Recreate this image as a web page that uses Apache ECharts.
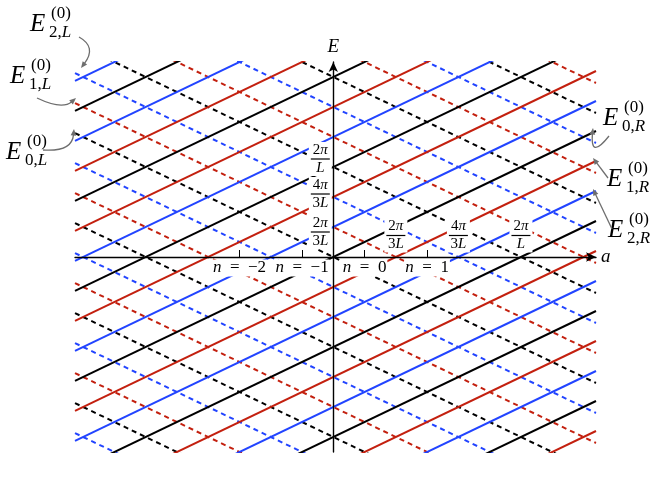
<!DOCTYPE html>
<html><head><meta charset="utf-8">
<script src="https://cdn.jsdelivr.net/npm/echarts@6/dist/echarts.min.js"></script>
<style>html,body{margin:0;padding:0;background:#fff}#c{width:654px;height:491px}</style>
</head><body><div id="c"></div>
<script>
// ---------- data ----------
const aRange = [-4.13, 4.2];          // a axis extent (units of 2π/3L)
const eRange = [-6.5, 6.5];           // E axis extent (units of 2π/3L)
// right movers: E = a + c (solid lines)
const rightOffsets = [-10,-9,-8,-7,-6,-5,-4,-3,-2,-1,0,1,2,3,4,5,6,7,8,9,10];
const rightColors  = ['r','k','b','r','k','b','r','k','b','r','k','b','r','k','b','r','k','r','b','k','b'];
// left movers: E = -a + d (dashed lines)
const leftOffsets = [-10,-9,-8,-7,-6,-5,-4,-3,-2,-1,0,1,2,3,4,5,6,7,8,9,10];
const leftColors  = ['b','k','r','b','k','r','b','k','r','b','k','r','b','k','r','b','k','r','b','k','r'];
// tick marks on the a axis and their n labels
const nTickValues = [-1.5,-0.5,0.5,1.5];
const nTickLabels = ['−2','−1','0','1'];
// fraction labels
const aFracValues = [1,2,3];
const eFracValues = [1,2,3];
const fracNum = ['2π','4π','2π'];
const fracDen = ['3L','3L','L'];

// ---------- styling ----------
const SERIF = "'Liberation Serif','DejaVu Serif',serif";
const COLORS = {k:'#000000', r:'#c3200f', b:'#2244ff'};
const GRAY = '#6e6e6e';
const eLabelNudge = [5,-3,-8];   // vertical nudges of the E-axis fraction labels (px)

function tok(s){
  return s.split('').map(ch => (ch==='π'||ch==='L') ? '{i|'+ch+'}' : '{n|'+ch+'}').join('');
}
function frac(num, den){ return tok(num)+'\n{bar|\u00a0}\n'+tok(den); }
const fracRich = {
  n:{fontFamily:SERIF, fontSize:15, color:'#000', align:'center', lineHeight:14},
  i:{fontFamily:SERIF, fontSize:15, fontStyle:'italic', color:'#000', align:'center', lineHeight:14},
  bar:{width:19, height:1.2, fontSize:2, backgroundColor:'#000', align:'center', lineHeight:4}
};

const series = [];
leftOffsets.forEach((d,i)=>{
  series.push({type:'line', silent:true, animation:false, symbol:'none', z:2, clip:true,
    data:[[aRange[0], -aRange[0]+d],[aRange[1], -aRange[1]+d]],
    lineStyle:{color:COLORS[leftColors[i]], width:2, type:[5,4]}});
});
rightOffsets.forEach((c,i)=>{
  series.push({type:'line', silent:true, animation:false, symbol:'none', z:2, clip:true,
    data:[[aRange[0], aRange[0]+c],[aRange[1], aRange[1]+c]],
    lineStyle:{color:COLORS[rightColors[i]], width:2, type:'solid'}});
});
const hidden = {color:'rgba(0,0,0,0)', opacity:1};
series.push({type:'scatter', silent:true, animation:false, z:6, symbolSize:1, itemStyle:hidden,
  data: aFracValues.map(v=>[v,0]),
  label:{show:true, position:'top', distance:4, backgroundColor:'#fff', padding:[1,2], color:'#000',
    formatter:p=>frac(fracNum[p.dataIndex], fracDen[p.dataIndex]), rich:fracRich}});
series.push({type:'scatter', silent:true, animation:false, z:6, symbolSize:1, itemStyle:hidden,
  data: eFracValues.map((v,i)=>({value:[0,v], label:{offset:[0,eLabelNudge[i]]}})),
  label:{show:true, position:'left', distance:1, backgroundColor:'#fff', padding:[1,2], color:'#000',
    formatter:p=>frac(fracNum[p.dataIndex], fracDen[p.dataIndex]), rich:fracRich}});
series.push({type:'scatter', silent:true, animation:false, z:6, symbolSize:1, itemStyle:hidden,
  data: nTickValues.map(v=>[v,0]),
  label:{show:true, position:'bottom', distance:2, backgroundColor:'#fff', padding:[0,1], color:'#000',
    formatter:p=>'{i|n}{r|\u2002=\u2002'+nTickLabels[p.dataIndex]+'}',
    rich:{i:{fontFamily:SERIF, fontSize:17, fontStyle:'italic', color:'#000'},
          r:{fontFamily:SERIF, fontSize:17, color:'#000'}}}});

const chart = echarts.init(document.getElementById('c'));
chart.setOption({
  animation:false,
  backgroundColor:'#fff',
  grid:{left:75, right:58, top:62, bottom:39, containLabel:false, outerBoundsMode:'none'},
  xAxis:{type:'value', min:aRange[0], max:aRange[1], z:5,
    name:'a', nameLocation:'end', nameGap:5,
    nameTextStyle:{fontFamily:SERIF, fontStyle:'italic', fontSize:19, color:'#000'},
    axisLine:{onZero:true, symbol:['none','arrow'], symbolSize:[7,10], lineStyle:{color:'#000', width:1.4}},
    axisTick:{show:true, customValues:nTickValues, inside:true, length:7, lineStyle:{color:'#000', width:1}},
    axisLabel:{show:false},
    splitLine:{show:false}},
  yAxis:{type:'value', min:eRange[0], max:eRange[1], z:5,
    name:'E', nameLocation:'end', nameGap:6,
    nameTextStyle:{fontFamily:SERIF, fontStyle:'italic', fontSize:19, color:'#000'},
    axisLine:{onZero:true, symbol:['none','arrow'], symbolSize:[7,10], lineStyle:{color:'#000', width:1.4}},
    axisTick:{show:false}, axisLabel:{show:false}, splitLine:{show:false}},
  series
});

// ---------- annotations ----------
function px(a,e){ return chart.convertToPixel({gridIndex:0}, [a,e]); }
function add(p,o){ return [p[0]+o[0], p[1]+o[1]]; }
const els = [];
function label(eLeft, cy, sup, sub){
  els.push({type:'text', z:20, style:{x:eLeft, y:cy, text:'E', fontFamily:SERIF, fontSize:25, fontStyle:'italic', fill:'#000', textAlign:'left', textVerticalAlign:'middle'}});
  els.push({type:'text', z:20, style:{x:eLeft+21, y:cy-10, text:sup, fontFamily:SERIF, fontSize:17, fill:'#000', textAlign:'left', textVerticalAlign:'middle'}});
  els.push({type:'text', z:20, style:{x:eLeft+19, y:cy+9, text:'{a|'+sub[0]+',}{b|'+sub[1]+'}',
    rich:{a:{fontFamily:SERIF, fontSize:17, fill:'#000', color:'#000'}, b:{fontFamily:SERIF, fontSize:17, fontStyle:'italic', fill:'#000', color:'#000'}},
    textAlign:'left', textVerticalAlign:'middle'}});
}
function arrow(start, ctrl, tip){
  const dx=tip[0]-ctrl[0], dy=tip[1]-ctrl[1]; const L=Math.hypot(dx,dy); const ux=dx/L, uy=dy/L;
  const len=6.5, w=2.8; const bx=tip[0]-ux*len, by=tip[1]-uy*len;
  els.push({type:'bezierCurve', z:20, shape:{x1:start[0], y1:start[1], cpx1:ctrl[0], cpy1:ctrl[1], x2:bx+ux*1, y2:by+uy*1},
    style:{stroke:GRAY, lineWidth:1.3, fill:null}});
  els.push({type:'polygon', z:20, shape:{points:[tip,[bx-uy*w, by+ux*w],[bx+uy*w, by-ux*w]]}, style:{fill:GRAY}});
}
const l2 = px(aRange[0], -aRange[0]+2), l1 = px(aRange[0], -aRange[0]+1), l0 = px(aRange[0], -aRange[0]+0);
const r0 = px(aRange[1], aRange[1]+0), r1 = px(aRange[1], aRange[1]-1), r2 = px(aRange[1], aRange[1]-2);

label(30, 24, '(0)', ['2','L']);
label(10, 76, '(0)', ['1','L']);
label(6, 152, '(0)', ['0','L']);
label(603, 118, '(0)', ['0','R']);
label(607, 179, '(0)', ['1','R']);
label(608, 230, '(0)', ['2','R']);

arrow([79,37],[97,47], add(l2,[6,-5]));
arrow([37,98],[62,110], add(l1,[1,-5]));
arrow([43,150],[72,152], add(l0,[-1,-4]));
arrow([609,136],[590,160], add(r0,[-3,-3]));
const t1 = add(r1,[-3,-3]); arrow([608,178],[(608+t1[0])/2,(178+t1[1])/2], t1);
const t2 = add(r2,[-3,-2]); arrow([612,229],[(612+t2[0])/2,(229+t2[1])/2], t2);

chart.setOption({graphic:{elements:els}});
</script></body></html>
